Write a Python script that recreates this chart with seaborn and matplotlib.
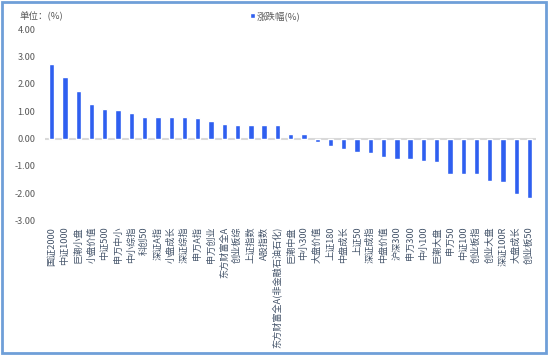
import matplotlib
matplotlib.use("Agg")
import matplotlib.pyplot as plt
import seaborn as sns
import pandas as pd
from matplotlib.patches import Rectangle

names = ["国证2000", "中证1000", "巨潮小盘", "小盘价值", "中证500", "申万中小", "中小综指",
         "科创50", "深证A指", "小盘成长", "深证综指", "申万A指", "申万创业", "东方财富全A",
         "创业板综", "上证指数", "A股指数", "东方财富全A(非金融石油石化)", "巨潮中盘",
         "中小300", "大盘价值", "上证180", "中盘成长", "上证50", "深证成指", "中盘价值",
         "沪深300", "申万300", "中小100", "巨潮大盘", "申万50", "中证100", "创业板指",
         "创业大盘", "深证100R", "大盘成长", "创业板50"]
values = [2.74, 2.26, 1.76, 1.28, 1.09, 1.03, 0.92, 0.80, 0.78, 0.78, 0.78, 0.75,
          0.64, 0.55, 0.50, 0.50, 0.50, 0.49, 0.16, 0.16, -0.12, -0.27, -0.38, -0.49,
          -0.51, -0.66, -0.75, -0.75, -0.83, -0.86, -1.28, -1.28, -1.28, -1.56, -1.59,
          -2.04, -2.18]
yticks = [-3, -2, -1, 0, 1, 2, 3, 4]

df = pd.DataFrame({"name": names, "value": values})

sns.set_theme(style="white")
plt.rcParams['font.family'] = ['Noto Sans CJK SC', 'DejaVu Sans']

fig = plt.figure(figsize=(5.5, 3.58), dpi=100)
ax = fig.add_axes([0.082, 0.384, 0.893, 0.534])
sns.barplot(data=df, x="name", y="value", color="#2f5ff0", saturation=1,
            width=0.4, ax=ax, label="涨跌幅(%)")
ax.set_ylim(-3, 4)
ax.set_xlim(-0.5, len(names) - 0.5)
ax.set_yticks(yticks)
ax.set_yticklabels([f"{v:.2f}" for v in yticks])
ax.axhline(0, color="#d9d9d9", lw=1.5, zorder=0)
for s in ax.spines.values():
    s.set_visible(False)
ax.set_xlabel("")
ax.set_ylabel("")
ax.tick_params(axis="x", rotation=90, length=0, labelsize=6.6, colors="#44546a", pad=4.5)
ax.tick_params(axis="y", length=0, labelsize=6.6, colors="#595959", pad=7)

fig.text(0.035, 0.955, "单位：(%)", fontsize=6.8, color="#595959", va="center", ha="left")
ax.legend(loc="center", bbox_to_anchor=(0.5, 0.955), bbox_transform=fig.transFigure,
          frameon=False, fontsize=6.8, handlelength=0.5, handleheight=0.5,
          handletextpad=0.2, labelcolor="#595959")

fig.patches.append(Rectangle((2 / 550, 5 / 358), 544 / 550, 351 / 358,
                             transform=fig.transFigure, fill=False,
                             edgecolor="#6f9fd8", lw=2))
fig.savefig("out.png", dpi=100)
